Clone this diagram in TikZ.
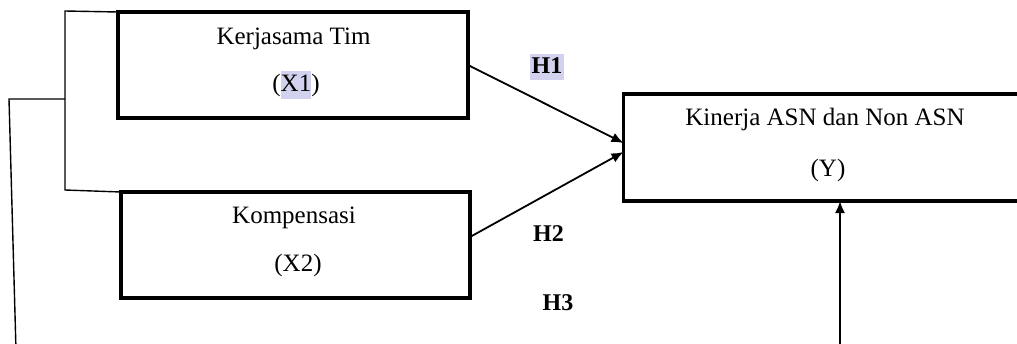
\documentclass[tikz,border=0pt]{standalone}
\usepackage{fontspec}
\setmainfont{Liberation Serif}
\usetikzlibrary{arrows.meta}
\definecolor{hlc}{RGB}{210,210,238}
\newcommand{\hlbox}[1]{{\setlength{\fboxsep}{0pt}\colorbox{hlc}{\rule[-4pt]{0pt}{14pt}#1}}}
\newcommand{\hlboxb}[1]{{\setlength{\fboxsep}{0pt}\colorbox{hlc}{\rule[-3.5pt]{0pt}{13pt}\hspace{1pt}#1\hspace{1pt}}}}
\begin{document}
\begin{tikzpicture}[x=0.5pt,y=-0.5pt,
  box/.style={draw,line width=1.9pt,inner sep=0pt,outer sep=0pt},
  openbox/.style={inner sep=0pt,outer sep=0pt},
  thinline/.style={line width=0.7pt},
  arr/.style={line width=0.9pt,-{Latex[length=6pt,width=5pt]}},
  lbl/.style={font=\fontsize{12.5}{15}\selectfont,inner sep=0pt,anchor=base},
  hyp/.style={font=\fontsize{12}{14}\selectfont\bfseries,inner sep=0pt,anchor=base}]
\useasboundingbox (0,0) rectangle (1017,343);

% boxes
\node[box,minimum width=175pt,minimum height=53pt] (x1) at (293,65) {};
\node[box,minimum width=174.5pt,minimum height=53pt] (x2) at (295.5,245) {};
\node[openbox,minimum width=197pt,minimum height=53.5pt] (yb) at (820.5,147.5) {};
\draw[line width=1.9pt] (yb.north east) -- (yb.north west) -- (yb.south west) -- (yb.south east);

% texts
\node[lbl] (t1) at (293.5,44) {Kerjasama Tim};
\node[lbl] (t1b) at (296,91) {(\hlbox{X1})};
\node[lbl] (t2) at (294,223) {Kompensasi};
\node[lbl] (t2b) at (298,271) {(X2)};
\node[lbl] (t3) at (825,125) {Kinerja ASN dan Non ASN};
\node[lbl] (t3b) at (828,176) {(Y)};

% hypothesis labels
\node[hyp] (h1) at (547,73) {\hlboxb{H1}};
\node[hyp] (h2) at (548.5,241) {H2};
\node[hyp] (h3) at (558,310) {H3};

% bracket lines
\coordinate (bt) at (65,11);
\coordinate (bb) at (65,190);
\coordinate (bm) at (65,99);
\coordinate (bl) at (9,99);
\coordinate (bend) at (16,350);
\draw[thinline] (x1.north west) -- (bt) -- (bb) -- (x2.north west);
\draw[thinline] (bm) -- (bl) -- (bend);

% arrows
\draw[arr] (x1.east) -- ([yshift=2.25pt]yb.west);
\draw[arr] ([yshift=4pt]x2.east) -- ([yshift=-2.25pt]yb.west);
\coordinate (yin) at (840,350);
\draw[arr] (yin) -- (yin |- yb.south);
\end{tikzpicture}
\end{document}
